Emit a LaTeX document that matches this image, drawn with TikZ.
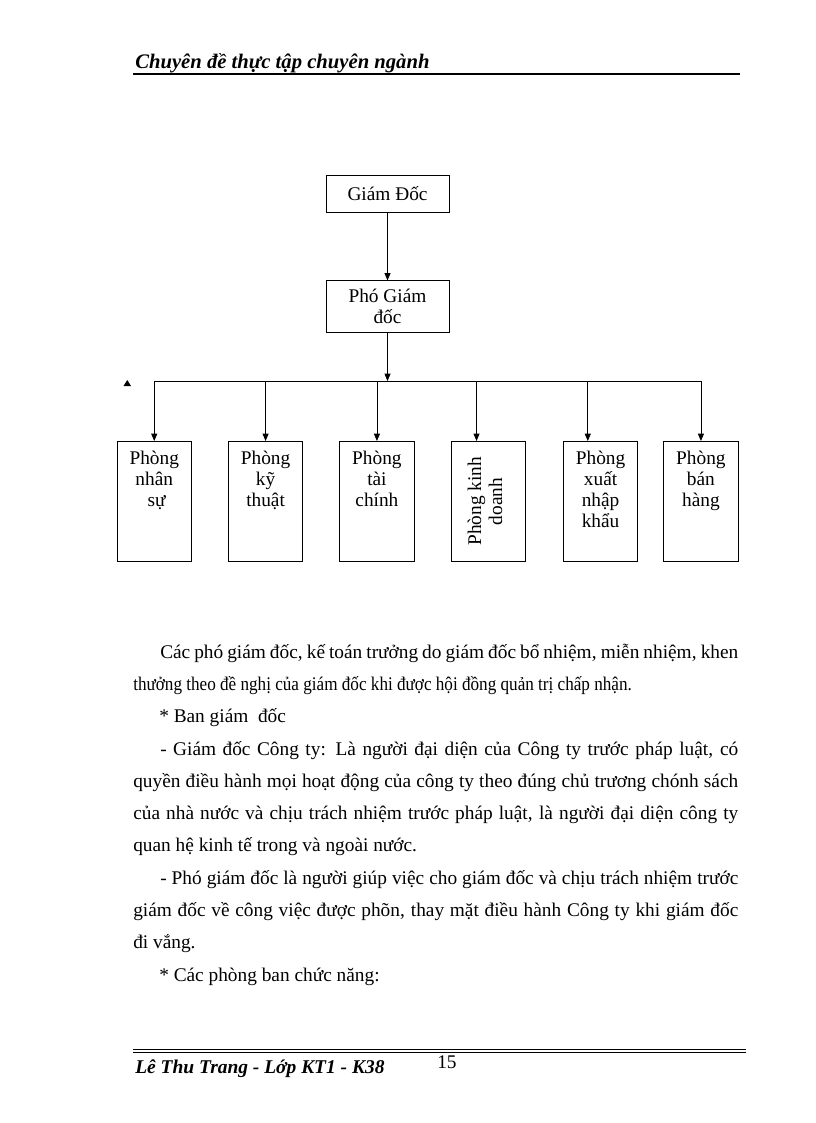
\documentclass[tikz,border=0pt]{standalone}
\usepackage{fontspec}
\setmainfont{Liberation Serif}
\usetikzlibrary{arrows.meta,positioning}
\tikzset{
  unitbox/.style={rectangle, draw=black, line width=0.6pt, align=center,
    font=\fontsize{14.5pt}{15.75pt}\selectfont, inner sep=0pt},
  topbox/.style={unitbox, minimum width=92.25pt, minimum height=27.75pt},
  deputybox/.style={unitbox, minimum width=92.25pt, minimum height=39pt},
  deptbox/.style={unitbox, minimum width=55.9pt, minimum height=90pt, anchor=north},
  orgarrow/.style={-{Triangle[length=5.5pt,width=4.5pt]}, line width=0.6pt},
  orgline/.style={line width=0.6pt},
  bodyline/.style={anchor=base west, inner sep=0pt, font=\fontsize{14.5pt}{17pt}\selectfont},
  headline/.style={anchor=base west, inner sep=0pt, font=\fontsize{15.5pt}{17pt}\selectfont\bfseries\itshape},
  footline/.style={headline, font=\fontsize{14.6pt}{17pt}\selectfont\bfseries\itshape},
}
\newcommand{\depttext}[1]{\parbox[t][75pt][t]{55.9pt}{\centering #1}}
\newcommand{\fullline}[2]{\makebox[#1][s]{#2}}

\begin{document}
\begin{tikzpicture}[x=0.75pt, y=-0.75pt]
\useasboundingbox (0,0) rectangle (816,1123);

% header
\node[headline] (header) at (135,68.5) {Chuyên đề thực tập chuyên ngành};
\draw[line width=1.5pt] (133,74) -- (740,74);

% chart
\node[topbox] (giamdoc) at (387.5,193.5) {Giám Đốc};
\node[deputybox, below=51pt of giamdoc] (phogd) {Phó Giám\\đốc};
\coordinate (bus) at (387.5,381);

\node[deptbox] (nhansu) at (154.25,441) {\depttext{Phòng\\nhân\\\ sự}};
\node[deptbox, right=27pt of nhansu] (kythuat) {\depttext{Phòng\\kỹ\\thuật}};
\node[deptbox, right=27pt of kythuat] (taichinh) {\depttext{Phòng\\tài\\chính}};
\node[deptbox, right=27pt of taichinh] (kinhdoanh) {};
\node[deptbox, right=27.75pt of kinhdoanh] (xnk) {\depttext{Phòng\\xuất\\nhập\\khẩu}};
\node[deptbox, right=18.75pt of xnk] (banhang) {\depttext{Phòng\\bán\\hàng}};
\node[unitbox, draw=none, rotate=90] (kinhdoanhtext) at ([xshift=-2.5pt]kinhdoanh.center) {Phòng kinh\\doanh};

\draw[orgarrow] (giamdoc) -- (phogd);
\draw[orgarrow] (phogd) -- (bus);
\draw[orgline] (nhansu.north |- bus) -- (banhang.north |- bus);
\draw[orgarrow] (nhansu.north |- bus) -- (nhansu.north);
\draw[orgarrow] (kythuat.north |- bus) -- (kythuat.north);
\draw[orgarrow] (taichinh.north |- bus) -- (taichinh.north);
\draw[orgarrow] ([xshift=-8.8pt]kinhdoanh.north |- bus) -- ([xshift=-8.8pt]kinhdoanh.north);
\draw[orgarrow] ([xshift=-9.6pt]xnk.north |- bus) -- ([xshift=-9.6pt]xnk.north);
\draw[orgarrow] (banhang.north |- bus) -- (banhang.north);
\fill (123.5,386) -- (131,386) -- (127.25,380) -- cycle;

% body text
\node[bodyline] (para1) at (160,658) {\fullline{433.5pt}{Các phó giám đốc, kế toán trưởng do giám đốc bổ nhiệm, miễn nhiệm, khen}};
\node[bodyline] (para2) at (133,690) {\scalebox{0.886}[1]{thưởng theo đề nghị của giám đốc khi được hội đồng quản trị chấp nhận.}};
\node[bodyline] (para3) at (159,722.5) {* Ban giám\ \ đốc};
\node[bodyline] (para4) at (160,755) {\fullline{433.5pt}{- Giám đốc Công ty: Là người đại diện của Công ty trước pháp luật, có}};
\node[bodyline] (para5) at (133,787) {\fullline{453.75pt}{quyền điều hành mọi hoạt động của công ty theo đúng chủ trương chónh sách}};
\node[bodyline] (para6) at (133,819.5) {\fullline{453.75pt}{của nhà nước và chịu trách nhiệm trước pháp luật, là người đại diện công ty}};
\node[bodyline] (para7) at (133,851.5) {quan hệ kinh tế trong và ngoài nước.};
\node[bodyline] (para8) at (160,884) {\fullline{433.5pt}{- Phó giám đốc là người giúp việc cho giám đốc và chịu trách nhiệm trước}};
\node[bodyline] (para9) at (133,916) {\fullline{453.75pt}{giám đốc về công việc được phõn, thay mặt điều hành Công ty khi giám đốc}};
\node[bodyline] (para10) at (133,948.5) {đi vắng.};
\node[bodyline] (para11) at (159,981) {* Các phòng ban chức năng:};

% footer
\draw[line width=0.6pt] (133,1049.5) -- (746,1049.5);
\draw[line width=1.2pt] (133,1052.5) -- (746,1052.5);
\node[footline] (author) at (135,1073) {Lê Thu Trang - Lớp KT1 - K38};
\node[bodyline] (pageno) at (437,1068) {15};
\end{tikzpicture}
\end{document}
